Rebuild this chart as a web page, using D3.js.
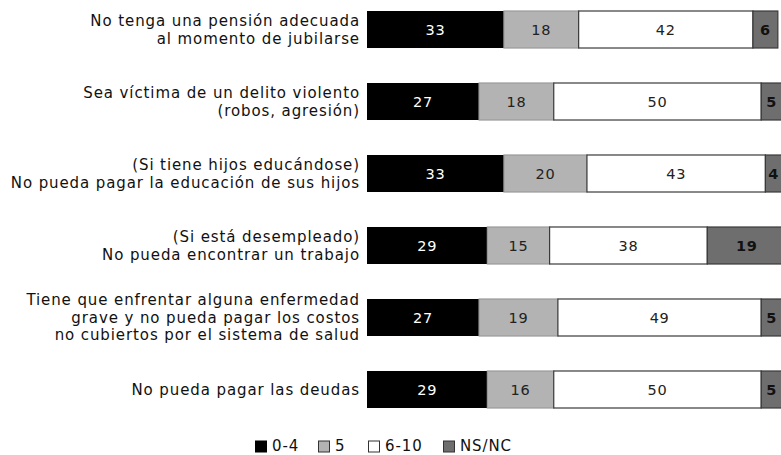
<!DOCTYPE html>
<html><head><meta charset="utf-8">
<script src="https://cdn.jsdelivr.net/npm/d3@7"></script>
<style>body{margin:0;background:#fff}svg{display:block}text{font-family:"DejaVu Sans",sans-serif}</style>
</head><body><svg id="c" width="781" height="455"></svg>
<script>
const categories = [
  ["No tenga una pensión adecuada","al momento de jubilarse"],
  ["Sea víctima de un delito violento","(robos, agresión)"],
  ["(Si tiene hijos educándose)","No pueda pagar la educación de sus hijos"],
  ["(Si está desempleado)","No pueda encontrar un trabajo"],
  ["Tiene que enfrentar alguna enfermedad","grave y no pueda pagar los costos","no cubiertos por el sistema de salud"],
  ["No pueda pagar las deudas"]
];
const seriesNames = ["0-4","5","6-10","NS/NC"];
const s04 = [33,27,33,29,27,29];
const s5 = [18,18,20,15,19,16];
const s610 = [42,50,43,38,49,50];
const sNS = [6,5,4,19,5,5];
const colors = ["#000000","#b3b3b3","#ffffff","#6e6e6e"];
const textColors = ["#ffffff","#222222","#222222","#111111"];

const svg = d3.select("#c");
const ids = categories.map((c,i)=>i);
const y = d3.scaleBand().domain(ids).range([11,408]).paddingInner(0.486).paddingOuter(0);
const x = d3.scaleLinear().domain([0,100]).range([367,782]);
const rows = ids.map(i=>({i, vals:[s04[i],s5[i],s610[i],sNS[i]]}));
const stack = d3.stack().keys([0,1,2,3]).value((d,k)=>d.vals[k]);
const layers = stack(rows);

layers.forEach((layer,k)=>{
  const g = svg.append("g");
  g.selectAll("rect").data(layer).join("rect")
    .attr("x",d=>x(d[0])).attr("y",d=>y(d.data.i))
    .attr("width",d=>x(d[1])-x(d[0])).attr("height",y.bandwidth())
    .attr("fill",colors[k])
    .attr("stroke", k===0?"none":(k===1?"#9a9a9a":"#3a3a3a"))
    .attr("stroke-width",1.2);
  g.selectAll("text").data(layer).join("text")
    .attr("x",d=>(x(d[0])+x(d[1]))/2).attr("y",d=>y(d.data.i)+y.bandwidth()/2)
    .attr("dy","0.36em").attr("text-anchor","middle")
    .attr("font-size",14.5).attr("font-weight",k===3?700:400)
    .attr("fill",textColors[k]).attr("letter-spacing",0.7)
    .text(d=>d.data.vals[k]);
});

// category labels
const lh = 17.5;
categories.forEach((lines,i)=>{
  const cy = y(i)+y.bandwidth()/2;
  const t = svg.append("text").attr("text-anchor","end").attr("font-size",15).attr("fill","#111")
    .attr("letter-spacing",0.9);
  lines.forEach((ln,j)=>{
    t.append("tspan").attr("x",360).attr("y",cy+(j-(lines.length-1)/2)*lh).attr("dy","0.36em").text(ln);
  });
});

// legend
const legX = [255,318,368,443];
const lg = svg.append("g");
seriesNames.forEach((n,k)=>{
  lg.append("rect").attr("x",legX[k]+0.5).attr("y",441).attr("width",11).attr("height",11)
    .attr("fill",colors[k]).attr("stroke",k===0?"#000":"#333").attr("stroke-width",1);
  lg.append("text").attr("x",legX[k]+17).attr("y",451)
    .attr("font-size",15).attr("fill","#111").attr("letter-spacing",0.9).text(n);
});
</script></body></html>
